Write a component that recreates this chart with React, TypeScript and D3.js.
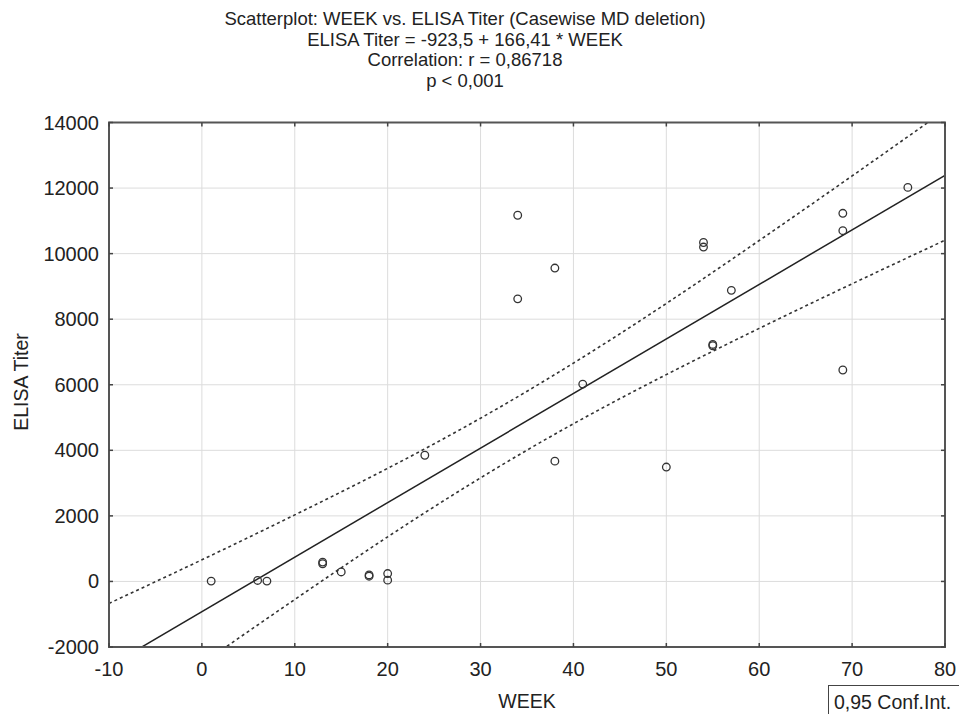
import React, { useEffect, useRef } from 'react';
import * as d3 from 'd3';

// WEEK / ELISA Titer pairs
const weeks = [1, 6, 7, 13, 13, 15, 18, 18, 20, 20, 24, 34, 34, 38, 38, 41, 50, 54, 54, 55, 55, 57, 69, 69, 69, 76];
const titers = [10, 30, 10, 590, 540, 290, 200, 160, 240, 40, 3850, 11170, 8620, 9560, 3670, 6020, 3490, 10340, 10200, 7230, 7190, 8880, 11230, 10700, 6450, 12020];

// fitted line as printed in the title
const intercept = -923.5;
const slope = 166.41;

// 0,95 confidence band at each x tick
const bandWeeks = [-10, 0, 10, 20, 30, 40, 50, 60, 70, 80];
const bandUpper = [-670, 660, 2030, 3450, 4980, 6660, 8480, 10400, 12370, 14370];
const bandLower = [-4500, -2510, -550, 1360, 3160, 4810, 6310, 7720, 9080, 10410];

const xTicks = [-10, 0, 10, 20, 30, 40, 50, 60, 70, 80];
const yTicks = [-2000, 0, 2000, 4000, 6000, 8000, 10000, 12000, 14000];

const titleLines = [
  'Scatterplot: WEEK vs. ELISA Titer (Casewise MD deletion)',
  'ELISA Titer = -923,5 + 166,41 * WEEK',
  'Correlation: r = 0,86718',
  'p < 0,001',
];

const App = () => {
  const ref = useRef<SVGSVGElement>(null);

  useEffect(() => {
    const svg = d3.select(ref.current);
    svg.selectAll('*').remove();

    const font = '"Liberation Sans", Arial, sans-serif';
    const margin = { top: 122.5, right: 14, bottom: 67, left: 109 };
    const width = 959;
    const height = 714;
    const innerW = width - margin.left - margin.right;
    const innerH = height - margin.top - margin.bottom;

    const x = d3.scaleLinear().domain([-10, 80]).range([0, innerW]);
    const y = d3.scaleLinear().domain([-2000, 14000]).range([innerH, 0]);

    // title lines
    svg.append('g')
      .selectAll('text')
      .data(titleLines)
      .enter()
      .append('text')
      .attr('x', 465)
      .attr('y', (d, i) => 25 + i * 20.5)
      .attr('text-anchor', 'middle')
      .style('font-family', font)
      .style('font-size', '18.5px')
      .style('fill', '#222')
      .text(d => d);

    const g = svg.append('g')
      .attr('transform', `translate(${margin.left},${margin.top})`);

    // grid
    g.selectAll('.vgrid')
      .data(xTicks)
      .enter()
      .append('line')
      .attr('x1', d => x(d)).attr('x2', d => x(d))
      .attr('y1', 0).attr('y2', innerH)
      .style('stroke', '#dcdcdc').style('stroke-width', 1);
    g.selectAll('.hgrid')
      .data(yTicks)
      .enter()
      .append('line')
      .attr('x1', 0).attr('x2', innerW)
      .attr('y1', d => y(d)).attr('y2', d => y(d))
      .style('stroke', '#dcdcdc').style('stroke-width', 1);

    // clip for the lines
    svg.append('defs').append('clipPath').attr('id', 'plot-clip')
      .append('rect').attr('width', innerW).attr('height', innerH);
    const plot = g.append('g').attr('clip-path', 'url(#plot-clip)');

    const line = d3.line<number[]>().x(d => x(d[0])).y(d => y(d[1]));
    const curve = d3.line<number[]>().x(d => x(d[0])).y(d => y(d[1])).curve(d3.curveNatural);

    // regression line
    const [x0, x1] = x.domain();
    plot.append('path')
      .attr('d', line([[x0, intercept + slope * x0], [x1, intercept + slope * x1]]))
      .style('fill', 'none').style('stroke', '#222').style('stroke-width', 1.5);

    // confidence band
    [bandUpper, bandLower].forEach(b => {
      plot.append('path')
        .attr('d', curve(bandWeeks.map((w, i) => [w, b[i]])))
        .style('fill', 'none').style('stroke', '#333').style('stroke-width', 1.6)
        .style('stroke-dasharray', '3,3');
    });

    // points
    g.selectAll('.pt')
      .data(weeks)
      .enter()
      .append('circle')
      .attr('cx', d => x(d))
      .attr('cy', (d, i) => y(titers[i]))
      .attr('r', 3.8)
      .style('fill', 'none')
      .style('stroke', '#333')
      .style('stroke-width', 1.3);

    // frame
    g.append('rect')
      .attr('width', innerW).attr('height', innerH)
      .style('fill', 'none').style('stroke', '#555').style('stroke-width', 2);

    // inward tick marks
    const tk = 4;
    xTicks.forEach(t => {
      g.append('line').attr('x1', x(t)).attr('x2', x(t)).attr('y1', innerH).attr('y2', innerH - tk).style('stroke', '#444').style('stroke-width', 1.5);
      g.append('line').attr('x1', x(t)).attr('x2', x(t)).attr('y1', 0).attr('y2', tk).style('stroke', '#444').style('stroke-width', 1.5);
    });
    yTicks.forEach(t => {
      g.append('line').attr('x1', 0).attr('x2', tk).attr('y1', y(t)).attr('y2', y(t)).style('stroke', '#444').style('stroke-width', 1.5);
      g.append('line').attr('x1', innerW).attr('x2', innerW - tk).attr('y1', y(t)).attr('y2', y(t)).style('stroke', '#444').style('stroke-width', 1.5);
    });

    // tick labels
    g.selectAll('.xl')
      .data(xTicks)
      .enter()
      .append('text')
      .attr('x', d => x(d))
      .attr('y', innerH + 29)
      .attr('text-anchor', 'middle')
      .style('font-family', font).style('font-size', '20px').style('fill', '#222')
      .text(d => d);
    g.selectAll('.yl')
      .data(yTicks)
      .enter()
      .append('text')
      .attr('x', -10)
      .attr('y', d => y(d) + 7)
      .attr('text-anchor', 'end')
      .style('font-family', font).style('font-size', '20px').style('fill', '#222')
      .text(d => d);

    // axis titles
    svg.append('text')
      .attr('x', 527).attr('y', 708)
      .attr('text-anchor', 'middle')
      .style('font-family', font).style('font-size', '19.5px').style('fill', '#222')
      .text('WEEK');
    svg.append('text')
      .attr('transform', 'translate(28,382) rotate(-90)')
      .attr('text-anchor', 'middle')
      .style('font-family', font).style('font-size', '19.5px').style('fill', '#222')
      .text('ELISA Titer');

    // legend box
    svg.append('rect')
      .attr('x', 828.5).attr('y', 685.5).attr('width', 140).attr('height', 40)
      .style('fill', 'white').style('stroke', '#444').style('stroke-width', 1);
    svg.append('text')
      .attr('x', 834).attr('y', 709)
      .style('font-family', font).style('font-size', '19.5px').style('fill', '#222')
      .text('0,95 Conf.Int.');
  }, []);

  return (
    <svg ref={ref} width={959} height={714}
      style={{ position: 'absolute', left: 0, top: 0, background: 'white' }} />
  );
};

export default App;
